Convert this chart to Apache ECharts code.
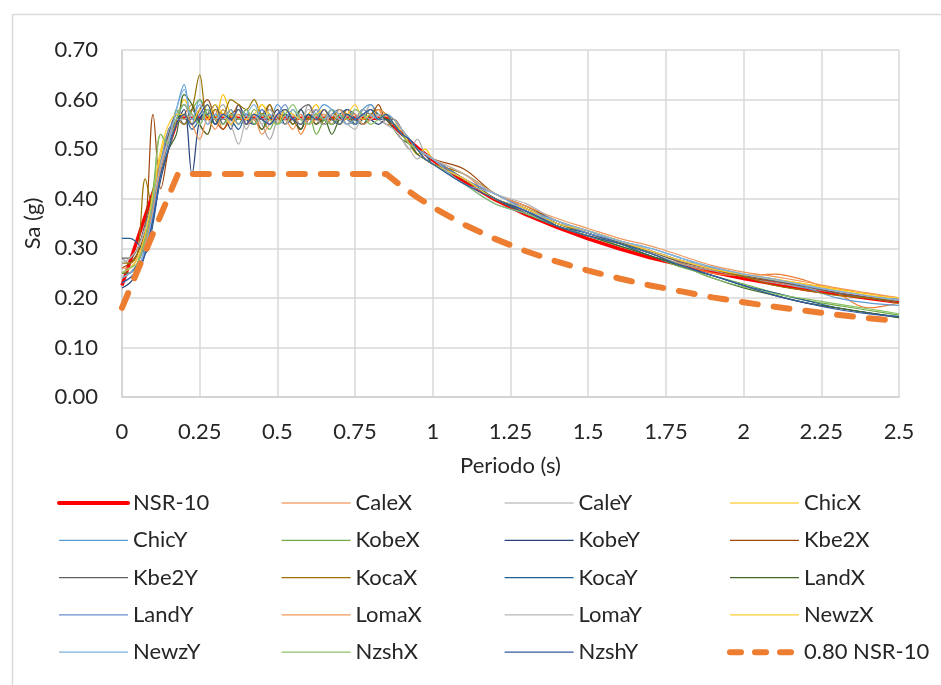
<!DOCTYPE html>
<html>
<head>
<meta charset="utf-8">
<script src="https://cdn.jsdelivr.net/npm/echarts@6/dist/echarts.min.js"></script>
<style>html,body{margin:0;padding:0;background:#fff}#c{width:941px;height:685px}</style>
</head>
<body>
<div id="c"></div>
<script>
// Periods (s) for the record spectra
const periods = [0,0.025,0.05,0.075,0.1,0.125,0.15,0.175,
  0.2,0.225,0.25,0.275,0.3,0.325,0.35,0.375,0.4,0.425,0.45,0.475,0.5,0.525,0.55,0.575,0.6,0.625,0.65,0.675,0.7,0.725,0.75,0.775,0.8,0.825,0.85,
  0.875,0.9,0.925,0.95,0.975,1.0,
  1.1,1.2,1.3,1.4,1.5,1.6,1.7,1.8,1.9,2.0,2.1,2.2,2.3,2.4,2.5];

// Design spectrum periods and values
const nsrT   = [0,0.18,0.85,0.9,0.95,1.0,1.1,1.2,1.3,1.4,1.5,1.6,1.7,1.8,1.9,2.0,2.1,2.2,2.3,2.4,2.5];
const nsrSa  = [0.225,0.5625,0.5625,0.531,0.503,0.478,0.435,0.398,0.368,0.342,0.319,0.299,0.281,0.266,0.252,0.239,0.228,0.217,0.208,0.199,0.191];
const nsr80Sa= [0.18,0.45,0.45,0.425,0.403,0.383,0.348,0.319,0.294,0.273,0.255,0.239,0.225,0.213,0.201,0.191,0.182,0.174,0.166,0.159,0.153];

const CaleX = [0.25,0.25,0.27,0.31,0.40,0.47,0.53,0.55,
  0.57,0.59,0.55,0.53,0.58,0.54,0.56,0.59,0.55,0.57,0.54,0.56,0.58,0.55,0.57,0.53,0.56,0.58,0.55,0.57,0.56,0.58,0.55,0.57,0.56,0.58,0.55,
  0.55,0.53,0.52,0.49,0.48,0.47,
  0.45,0.40,0.38,0.345,0.325,0.31,0.295,0.27,0.25,0.245,0.248,0.235,0.21,0.18,0.19];
const CaleY = [0.28,0.27,0.29,0.33,0.41,0.48,0.53,0.57,
  0.59,0.56,0.58,0.55,0.57,0.59,0.56,0.58,0.54,0.57,0.55,0.52,0.56,0.58,0.57,0.55,0.59,0.57,0.55,0.58,0.56,0.55,0.58,0.57,0.59,0.56,0.55,
  0.54,0.52,0.50,0.52,0.49,0.48,
  0.44,0.41,0.385,0.355,0.33,0.31,0.29,0.268,0.255,0.243,0.23,0.22,0.21,0.2,0.19];
const ChicX = [0.24,0.25,0.27,0.32,0.41,0.49,0.54,0.56,
  0.60,0.57,0.55,0.59,0.56,0.61,0.57,0.55,0.58,0.56,0.59,0.57,0.55,0.58,0.56,0.55,0.57,0.59,0.56,0.58,0.57,0.56,0.55,0.57,0.56,0.58,0.57,
  0.56,0.53,0.51,0.49,0.50,0.48,
  0.44,0.40,0.38,0.355,0.335,0.315,0.295,0.275,0.26,0.248,0.238,0.228,0.218,0.208,0.2];
const ChicY = [0.23,0.24,0.26,0.30,0.38,0.46,0.52,0.58,
  0.63,0.55,0.60,0.57,0.59,0.55,0.57,0.56,0.58,0.55,0.57,0.56,0.59,0.57,0.55,0.58,0.56,0.57,0.59,0.58,0.56,0.57,0.55,0.58,0.59,0.57,0.56,
  0.55,0.54,0.51,0.49,0.48,0.47,
  0.43,0.39,0.37,0.35,0.335,0.315,0.3,0.28,0.258,0.245,0.235,0.22,0.2,0.19,0.185];
const KobeX = [0.25,0.26,0.28,0.33,0.42,0.53,0.50,0.58,
  0.56,0.58,0.60,0.57,0.55,0.58,0.56,0.57,0.55,0.58,0.56,0.54,0.57,0.55,0.58,0.56,0.57,0.53,0.56,0.58,0.55,0.57,0.56,0.55,0.57,0.56,0.57,
  0.55,0.53,0.51,0.50,0.48,0.47,
  0.44,0.40,0.37,0.345,0.325,0.305,0.285,0.262,0.245,0.228,0.21,0.195,0.185,0.175,0.165];
const KobeY = [0.22,0.23,0.25,0.29,0.36,0.44,0.50,0.55,
  0.58,0.45,0.56,0.58,0.55,0.57,0.54,0.59,0.56,0.55,0.57,0.56,0.58,0.55,0.56,0.54,0.57,0.56,0.55,0.57,0.58,0.56,0.55,0.57,0.56,0.55,0.56,
  0.55,0.53,0.52,0.50,0.49,0.48,
  0.44,0.40,0.375,0.345,0.325,0.31,0.29,0.265,0.245,0.225,0.205,0.19,0.18,0.17,0.16];
const Kbe2X = [0.26,0.27,0.29,0.34,0.57,0.42,0.50,0.56,
  0.57,0.55,0.58,0.60,0.56,0.54,0.57,0.58,0.55,0.57,0.56,0.59,0.55,0.57,0.56,0.54,0.57,0.55,0.58,0.56,0.57,0.55,0.56,0.58,0.57,0.59,0.56,
  0.56,0.54,0.52,0.50,0.49,0.48,
  0.46,0.41,0.385,0.355,0.335,0.315,0.295,0.275,0.258,0.243,0.233,0.223,0.21,0.2,0.19];
const Kbe2Y = [0.28,0.28,0.30,0.35,0.40,0.47,0.53,0.57,
  0.55,0.58,0.56,0.57,0.59,0.55,0.57,0.56,0.58,0.55,0.57,0.58,0.56,0.57,0.55,0.58,0.59,0.56,0.57,0.55,0.56,0.58,0.57,0.55,0.56,0.57,0.56,
  0.55,0.53,0.52,0.50,0.49,0.48,
  0.44,0.40,0.38,0.35,0.33,0.312,0.293,0.272,0.258,0.246,0.234,0.223,0.21,0.2,0.195];
const KocaX = [0.27,0.27,0.29,0.44,0.38,0.45,0.51,0.56,
  0.55,0.58,0.65,0.56,0.58,0.57,0.60,0.59,0.58,0.60,0.57,0.59,0.56,0.57,0.55,0.58,0.56,0.57,0.55,0.56,0.58,0.57,0.56,0.55,0.57,0.58,0.57,
  0.55,0.53,0.51,0.50,0.48,0.47,
  0.45,0.41,0.38,0.35,0.33,0.31,0.295,0.275,0.258,0.243,0.225,0.215,0.205,0.2,0.195];
const KocaY = [0.32,0.32,0.31,0.29,0.35,0.45,0.51,0.55,
  0.57,0.54,0.56,0.58,0.55,0.57,0.56,0.54,0.57,0.55,0.58,0.56,0.55,0.57,0.56,0.58,0.55,0.57,0.56,0.55,0.57,0.58,0.56,0.55,0.57,0.56,0.56,
  0.55,0.53,0.52,0.50,0.49,0.47,
  0.44,0.40,0.37,0.345,0.33,0.31,0.285,0.265,0.245,0.225,0.21,0.195,0.18,0.17,0.162];
const LandX = [0.25,0.25,0.27,0.32,0.39,0.46,0.50,0.53,
  0.61,0.59,0.55,0.53,0.57,0.56,0.58,0.55,0.57,0.56,0.54,0.57,0.55,0.58,0.56,0.54,0.57,0.55,0.56,0.53,0.56,0.57,0.55,0.56,0.58,0.57,0.56,
  0.54,0.52,0.51,0.49,0.48,0.47,
  0.44,0.40,0.375,0.345,0.325,0.305,0.285,0.265,0.24,0.22,0.205,0.19,0.18,0.17,0.16];
const LandY = [0.24,0.25,0.27,0.31,0.39,0.47,0.54,0.56,
  0.59,0.57,0.55,0.58,0.56,0.57,0.55,0.58,0.57,0.56,0.58,0.55,0.57,0.59,0.56,0.57,0.55,0.58,0.56,0.57,0.58,0.56,0.55,0.57,0.58,0.56,0.57,
  0.56,0.54,0.52,0.50,0.49,0.48,
  0.44,0.41,0.38,0.355,0.33,0.315,0.295,0.275,0.26,0.247,0.237,0.226,0.214,0.204,0.198];
const LomaX = [0.26,0.26,0.28,0.31,0.38,0.46,0.52,0.55,
  0.57,0.55,0.52,0.56,0.54,0.58,0.55,0.57,0.55,0.56,0.53,0.55,0.57,0.56,0.54,0.57,0.55,0.56,0.57,0.55,0.58,0.56,0.57,0.55,0.56,0.58,0.57,
  0.56,0.54,0.52,0.50,0.49,0.48,
  0.45,0.41,0.385,0.36,0.34,0.32,0.305,0.285,0.265,0.252,0.243,0.232,0.22,0.21,0.2];
const LomaY = [0.27,0.28,0.30,0.34,0.40,0.47,0.52,0.56,
  0.56,0.57,0.55,0.58,0.56,0.57,0.55,0.51,0.56,0.57,0.55,0.58,0.56,0.55,0.57,0.56,0.58,0.56,0.55,0.57,0.56,0.55,0.54,0.57,0.56,0.57,0.55,
  0.54,0.52,0.50,0.48,0.49,0.48,
  0.45,0.41,0.39,0.355,0.335,0.315,0.295,0.275,0.262,0.248,0.236,0.225,0.214,0.204,0.195];
const NewzX = [0.25,0.26,0.28,0.33,0.41,0.50,0.55,0.57,
  0.57,0.55,0.58,0.56,0.59,0.57,0.55,0.58,0.56,0.57,0.59,0.56,0.55,0.58,0.57,0.56,0.55,0.57,0.58,0.56,0.55,0.57,0.59,0.56,0.57,0.56,0.57,
  0.55,0.54,0.51,0.50,0.48,0.47,
  0.44,0.40,0.38,0.35,0.335,0.315,0.295,0.275,0.258,0.247,0.238,0.228,0.216,0.205,0.2];
const NewzY = [0.24,0.25,0.26,0.30,0.37,0.45,0.51,0.58,
  0.62,0.56,0.59,0.55,0.57,0.56,0.58,0.55,0.57,0.59,0.56,0.57,0.55,0.56,0.58,0.56,0.55,0.57,0.56,0.58,0.57,0.55,0.56,0.58,0.57,0.56,0.57,
  0.56,0.54,0.52,0.50,0.49,0.48,
  0.43,0.41,0.375,0.355,0.335,0.315,0.3,0.28,0.262,0.248,0.238,0.224,0.214,0.204,0.195];
const NzshX = [0.25,0.26,0.27,0.32,0.40,0.53,0.51,0.56,
  0.59,0.57,0.55,0.58,0.56,0.55,0.57,0.56,0.58,0.55,0.57,0.56,0.55,0.57,0.59,0.56,0.55,0.57,0.56,0.55,0.57,0.56,0.58,0.57,0.55,0.56,0.57,
  0.55,0.53,0.51,0.50,0.48,0.47,
  0.43,0.39,0.37,0.345,0.325,0.31,0.29,0.265,0.24,0.222,0.208,0.198,0.188,0.178,0.168];
const NzshY = [0.23,0.24,0.25,0.29,0.36,0.45,0.50,0.55,
  0.57,0.55,0.57,0.59,0.55,0.57,0.56,0.58,0.55,0.57,0.56,0.55,0.57,0.58,0.56,0.55,0.57,0.56,0.58,0.56,0.55,0.57,0.56,0.57,0.58,0.56,0.57,
  0.55,0.53,0.52,0.50,0.48,0.47,
  0.43,0.40,0.375,0.345,0.325,0.31,0.29,0.265,0.245,0.225,0.205,0.19,0.177,0.168,0.162];

const recordNames = ['CaleX','CaleY','ChicX','ChicY','KobeX','KobeY','Kbe2X','Kbe2Y','KocaX','KocaY','LandX','LandY','LomaX','LomaY','NewzX','NewzY','NzshX','NzshY'];
const recordValues = [CaleX,CaleY,ChicX,ChicY,KobeX,KobeY,Kbe2X,Kbe2Y,KocaX,KocaY,LandX,LandY,LomaX,LomaY,NewzX,NewzY,NzshX,NzshY];
const recordColors = ['#ED7D31','#A5A5A5','#FFC000','#5B9BD5','#70AD47','#264478','#9E480E','#636363','#997300','#255E91','#43682B','#698ED0','#F1975A','#B7B7B7','#FFCD33','#7CAFDD','#8CC168','#335AA1'];

const FONT = 'Lato';
const TXT = '#262626';
const FS = 22;

const series = [];
series.push({
  name: 'NSR-10', type: 'line', symbol: 'none', z: 2,
  data: nsrT.map((t, i) => [t, nsrSa[i]]),
  lineStyle: { color: '#FF0000', width: 3.5 }, itemStyle: { color: '#FF0000' }
});
recordNames.forEach((n, k) => {
  series.push({
    name: n, type: 'line', symbol: 'none', smooth: 0.35, z: 3,
    data: periods.map((t, i) => [t, recordValues[k][i]]),
    lineStyle: { color: recordColors[k], width: 1.2 }, itemStyle: { color: recordColors[k] }
  });
});
series.push({
  name: '0.80 NSR-10', type: 'line', symbol: 'none', z: 4,
  data: nsrT.map((t, i) => [t, nsr80Sa[i]]),
  lineStyle: { color: '#ED7D31', width: 6, type: [16, 16], cap: 'round', join: 'round' },
  itemStyle: { color: '#ED7D31' }
});

const allNames = ['NSR-10'].concat(recordNames).concat(['0.80 NSR-10']);
const colLeft = [57, 281, 504, 727];
const legends = colLeft.map((lx, c) => {
  const items = [];
  for (let r = 0; r < 5; r++) {
    const idx = r * 4 + c;
    const nm = allNames[idx];
    let ls;
    if (nm === 'NSR-10') ls = { width: 4, color: '#FF0000', cap: 'round' };
    else if (nm === '0.80 NSR-10') ls = { width: 6, color: '#ED7D31', type: [11, 14], cap: 'round' };
    else ls = { width: 1.2, color: recordColors[idx - 1] };
    items.push({ name: nm, lineStyle: ls, itemStyle: { opacity: 0 } });
  }
  return {
    orient: 'vertical', left: lx, top: 492, padding: 0,
    itemWidth: 69, itemHeight: 20, itemGap: 15.3,
    data: items, selectedMode: false,
    itemStyle: { opacity: 0 },
    textStyle: { fontFamily: FONT, fontSize: FS, color: TXT, lineHeight: 20 }
  };
});

const chart = echarts.init(document.getElementById('c'), null, { renderer: 'canvas' });
chart.setOption({
  animation: false,
  backgroundColor: '#ffffff',
  graphic: [{
    type: 'rect', left: 10, top: 12, silent: true,
    shape: { width: 940, height: 680 },
    style: { fill: 'none', stroke: '#d9d9d9', lineWidth: 1.5 }
  }],
  grid: { left: 122, right: 42, top: 50, bottom: 288 },
  legend: legends,
  xAxis: {
    type: 'value', min: 0, max: 2.5, interval: 0.25,
    name: 'Periodo (s)', nameLocation: 'middle', nameGap: 58,
    nameTextStyle: { fontFamily: FONT, fontSize: FS, color: TXT },
    axisLine: { show: true, lineStyle: { color: '#d0d0d0', width: 1.5 } },
    axisTick: { show: false },
    axisLabel: { fontFamily: FONT, fontSize: FS, color: TXT, margin: 24 },
    splitLine: { show: true, lineStyle: { color: '#d9d9d9', width: 1.5 } }
  },
  yAxis: {
    type: 'value', min: 0, max: 0.7, interval: 0.1,
    name: 'Sa (g)', nameLocation: 'middle', nameGap: 78, nameRotate: 90,
    nameTextStyle: { fontFamily: FONT, fontSize: FS, color: TXT },
    axisLine: { show: true, lineStyle: { color: '#d0d0d0', width: 1.5 } },
    axisTick: { show: false },
    axisLabel: { fontFamily: FONT, fontSize: FS, color: TXT, margin: 24, formatter: v => v.toFixed(2) },
    splitLine: { show: true, lineStyle: { color: '#d9d9d9', width: 1.5 } }
  },
  series: series
});
</script>
</body>
</html>
